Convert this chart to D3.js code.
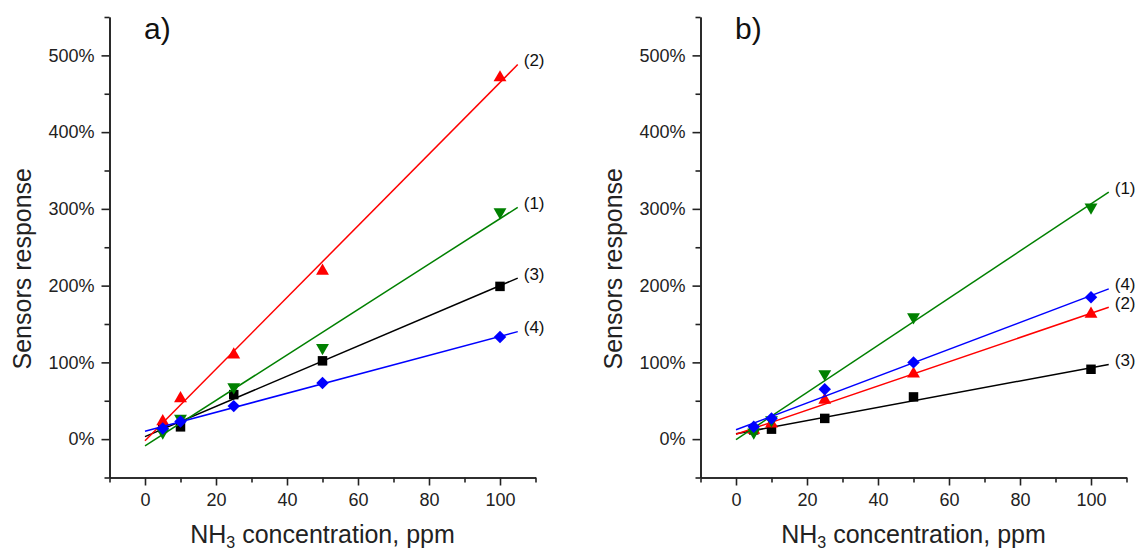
<!DOCTYPE html>
<html>
<head>
<meta charset="utf-8">
<script src="https://cdn.jsdelivr.net/npm/d3@7"></script>
<style>
  body { margin: 0; background: #fff; }
  text { font-family: "Liberation Sans", Arial, sans-serif; }
</style>
</head>
<body>
<script>
// NH3 concentrations, ppm
var conc = [5, 10, 25, 50, 100];

// panel a) sensors response, %
var a1 = [9, 27, 68, 119, 296];
var a2 = [23, 53, 110, 219, 471];
var a3 = [15, 16, 58, 102, 199];
var a4 = [14, 23, 43, 73, 133];

// panel b) sensors response, %
var b1 = [9, 25, 85, 159, 302];
var b2 = [12, 20, 51, 85, 163];
var b3 = [12, 13, 27, 55, 91];
var b4 = [16, 27, 65, 100, 185];

var seriesNames = ["(1)", "(2)", "(3)", "(4)"];
var panelNames = ["a)", "b)"];
var xTicks = [0, 20, 40, 60, 80, 100];
var xMinor = [-10, 10, 30, 50, 70, 90, 110];
var yTicks = [0, 100, 200, 300, 400, 500];
var yMinor = [-50, 50, 150, 250, 350, 450, 550];

var W = 1138, H = 552;

var svg = d3.select("body").append("svg")
  .attr("width", W)
  .attr("height", H);

// style of each series: (1) green down triangle, (2) red triangle, (3) black square, (4) blue diamond
var colors = ["#008000", "#ff0000", "#000000", "#0000ff"];
var shapes = [
  d3.symbol().type(d3.symbolTriangle).size(72),
  d3.symbol().type(d3.symbolTriangle).size(72),
  d3.symbol().type(d3.symbolSquare).size(90),
  d3.symbol().type({draw: function(ctx, size) {
    var r = Math.sqrt(size / 2);
    ctx.moveTo(0, -r); ctx.lineTo(r, 0); ctx.lineTo(0, r); ctx.lineTo(-r, 0); ctx.closePath();
  }}).size(78)
];
var rotations = [180, 0, 0, 0];
// draw order so the overlaps look like the original
var drawOrder = [2, 1, 0, 3];

// least squares line through the points
function fit(xs, ys) {
  var mx = d3.mean(xs), my = d3.mean(ys);
  var sxy = d3.sum(xs, function(x, i) { return (x - mx) * (ys[i] - my); });
  var sxx = d3.sum(xs, function(x) { return (x - mx) * (x - mx); });
  var k = sxy / sxx;
  return function(x) { return my + k * (x - mx); };
}

function drawPanel(idx, left, data) {
  var x = d3.scaleLinear().domain([-10, 110]).range([left, left + 426]);
  var y = d3.scaleLinear().domain([-50, 550]).range([477.5, 17]);

  var g = svg.append("g");

  // axes
  g.append("g").attr("transform", "translate(" + x(-10) + ",0)")
    .call(d3.axisLeft(y).tickValues(yTicks).tickFormat(function(d) { return d + "%"; })
      .tickSize(8).tickSizeOuter(0).tickPadding(7));
  g.append("g").attr("transform", "translate(" + x(-10) + ",0)")
    .call(d3.axisLeft(y).tickValues(yMinor).tickFormat("").tickSize(5).tickSizeOuter(0));

  g.append("g").attr("transform", "translate(0," + y(-50) + ")")
    .call(d3.axisBottom(x).tickValues(xTicks).tickSize(8).tickSizeOuter(0).tickPadding(8));
  g.append("g").attr("transform", "translate(0," + y(-50) + ")")
    .call(d3.axisBottom(x).tickValues(xMinor).tickFormat("").tickSize(5).tickSizeOuter(0));

  g.selectAll(".domain, .tick line").attr("stroke", "#222").attr("stroke-width", 1.6);
  g.selectAll(".tick text").attr("font-size", "18px").attr("fill", "#222")
    .style("font-family", "'Liberation Sans', Arial, sans-serif");

  // axis titles
  g.append("text")
    .attr("transform", "translate(" + (x(-10) - 79) + "," + y(222) + ") rotate(-90)")
    .attr("text-anchor", "middle")
    .attr("font-size", "25px")
    .attr("fill", "#222")
    .text("Sensors response");

  var xt = g.append("text")
    .attr("x", x(50))
    .attr("y", 543)
    .attr("text-anchor", "middle")
    .attr("font-size", "25px")
    .attr("fill", "#222");
  xt.append("tspan").text("NH");
  xt.append("tspan").attr("font-size", "16px").attr("dy", 5).text("3");
  xt.append("tspan").attr("dy", -5).text(" concentration, ppm");

  // panel letter
  g.append("text")
    .attr("x", x(0) - 1)
    .attr("y", 39)
    .attr("font-size", "30px")
    .attr("fill", "#111")
    .text(panelNames[idx]);

  // fitted lines, markers and labels
  drawOrder.forEach(function(s) {
    var f = fit(conc, data[s]);
    g.append("line")
      .attr("x1", x(0)).attr("y1", y(f(0)))
      .attr("x2", x(105)).attr("y2", y(f(105)))
      .attr("stroke", colors[s])
      .attr("stroke-width", 1.5);

    g.selectAll(".m" + s)
      .data(conc)
      .enter()
      .append("path")
        .attr("d", shapes[s])
        .attr("transform", function(d, i) {
          return "translate(" + x(d) + "," + y(data[s][i]) + ") rotate(" + rotations[s] + ")";
        })
        .attr("fill", colors[s]);

    g.append("text")
      .attr("x", x(105) + 6)
      .attr("y", y(f(105)) - 4)
      .attr("dominant-baseline", "central")
      .attr("font-size", "17px")
      .attr("fill", "#111")
      .text(seriesNames[s]);
  });
}

drawPanel(0, 109.5, [a1, a2, a3, a4]);
drawPanel(1, 700.5, [b1, b2, b3, b4]);
</script>
</body>
</html>
